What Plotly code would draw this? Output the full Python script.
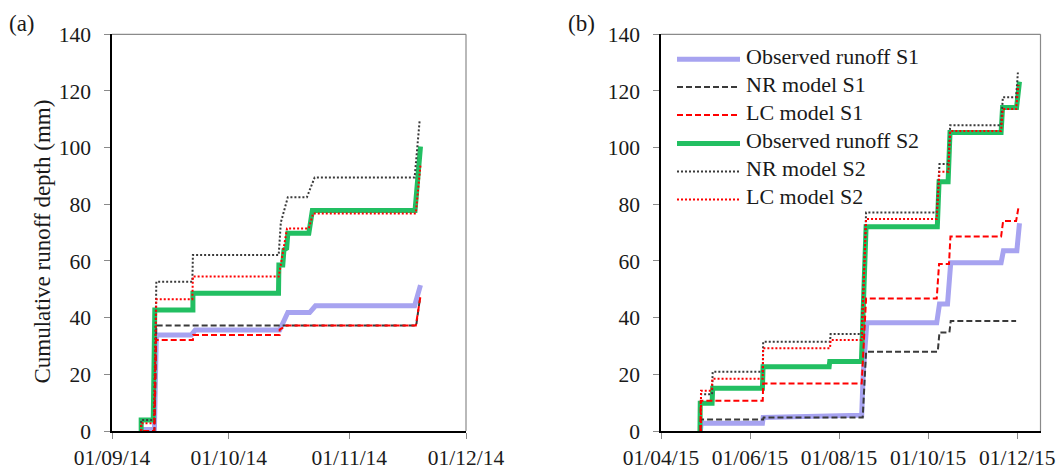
import pandas as pd
import plotly.graph_objects as go

W, H = 1057, 470

# ---------------- Data: panel (a) (days after 01/09/2014, mm) ----------------
start_a = "2014-09-01"
a_obs_s1_d = [8.0, 10.9, 11.4, 20.4, 21.4, 43.1, 45.2, 50.8, 52.3, 77.8, 79.3]
a_obs_s1_v = [0.5, 0.5, 33.9, 33.9, 35.6, 35.6, 41.8, 41.8, 44.2, 44.2, 51.5]
a_nr_s1_d = [8.0, 10.9, 11.4, 78.2, 79.1]
a_nr_s1_v = [0.0, 0.0, 37.2, 37.2, 46.2]
a_lc_s1_d = [8.0, 10.9, 11.3, 20.8, 20.9, 43.1, 43.1, 44.8, 78.1, 79.3]
a_lc_s1_v = [0.0, 0.0, 32.1, 32.1, 33.9, 33.9, 35.8, 37.2, 37.2, 47.6]
a_obs_s2_d = [7.5, 7.5, 10.6, 11.0, 20.8, 20.8, 42.8, 42.9, 43.9, 44.2, 44.9, 45.2, 50.6, 51.5, 77.9, 78.5, 79.3]
a_obs_s2_v = [0.0, 3.9, 3.9, 42.7, 42.7, 48.6, 48.6, 58.6, 58.6, 63.9, 64.5, 69.8, 69.8, 77.8, 77.8, 90.0, 100.4]
a_nr_s2_d = [7.5, 7.5, 10.8, 11.4, 20.65, 20.8, 42.85, 43.4, 45.2, 50.1, 52.1, 77.8, 79.1]
a_nr_s2_v = [0.0, 3.9, 3.9, 52.7, 52.7, 62.1, 62.1, 73.6, 82.5, 82.5, 89.5, 89.5, 109.8]
a_lc_s2_d = [7.5, 7.5, 10.8, 11.4, 20.65, 20.8, 42.85, 45.0, 50.6, 51.7, 78.1, 79.3]
a_lc_s2_v = [0.0, 2.7, 2.7, 46.5, 46.5, 54.5, 54.5, 71.5, 71.5, 76.8, 76.8, 93.9]

# ---------------- Data: panel (b) (days after 01/04/2015, mm) ----------------
start_b = "2015-04-01"
b_obs_s1_d = [27.0, 27.5, 69.5, 70.0, 137.5, 138.5, 141.0, 188.9, 190.8, 196.3, 198.5, 233.0, 234.6, 243.8, 245.6]
b_obs_s1_v = [0.0, 2.7, 2.7, 4.8, 5.6, 20.0, 38.2, 38.2, 44.8, 44.8, 59.4, 59.4, 63.6, 63.6, 73.3]
b_nr_s1_d = [27.0, 27.2, 70.0, 70.3, 138.2, 140.5, 189.6, 190.8, 197.6, 198.5, 243.3]
b_nr_s1_v = [0.0, 4.1, 4.1, 4.8, 4.8, 28.0, 28.0, 34.8, 34.8, 38.8, 38.8]
b_lc_s1_d = [27.0, 27.2, 69.7, 70.0, 137.5, 140.5, 188.9, 190.5, 197.3, 198.3, 233.0, 234.4, 243.3, 244.9]
b_lc_s1_v = [0.0, 10.7, 10.7, 16.8, 16.8, 46.8, 46.8, 58.9, 58.9, 68.6, 68.6, 74.1, 74.1, 78.9]
b_obs_s2_d = [26.7, 26.9, 35.0, 35.4, 69.5, 69.9, 115.2, 115.6, 137.3, 140.5, 189.3, 190.5, 196.7, 198.0, 233.0, 234.0, 243.6, 245.6]
b_obs_s2_v = [0.0, 9.8, 9.8, 15.1, 15.1, 22.7, 22.7, 24.5, 24.5, 72.1, 72.1, 88.0, 88.0, 105.3, 105.3, 114.2, 114.2, 123.3]
b_nr_s2_d = [27.4, 27.4, 35.0, 35.4, 69.7, 70.0, 115.8, 116.2, 137.5, 140.5, 188.9, 190.8, 196.9, 198.1, 233.0, 234.2, 243.3, 244.5]
b_nr_s2_v = [0.0, 13.0, 13.0, 20.9, 20.9, 31.5, 31.5, 34.2, 34.2, 77.1, 77.1, 94.2, 94.2, 107.9, 107.9, 117.8, 117.8, 126.5]
b_lc_s2_d = [27.4, 27.4, 34.7, 35.2, 69.7, 70.0, 115.8, 116.2, 137.5, 140.5, 188.9, 190.8, 196.9, 198.1, 233.0, 234.2, 243.3, 244.9]
b_lc_s2_v = [0.0, 14.2, 14.2, 18.4, 18.4, 29.2, 29.2, 32.1, 32.1, 74.8, 74.8, 91.5, 91.5, 105.9, 105.9, 113.6, 113.6, 122.1]

# ---------------- Axis labels ----------------
a_tick_dates = ["2014-09-01", "2014-10-01", "2014-11-01", "2014-12-01"]
a_tick_text = ["01/09/14", "01/10/14", "01/11/14", "01/12/14"]
b_tick_dates = ["2015-04-01", "2015-06-01", "2015-08-01", "2015-10-01", "2015-12-01"]
b_tick_text = ["01/04/15", "01/06/15", "01/08/15", "01/10/15", "01/12/15"]
a_range = ["2014-09-01", "2014-12-01"]
b_range = ["2015-04-01", "2015-12-17"]
y_ticks = [0, 20, 40, 60, 80, 100, 120, 140]
series_names = ["Observed runoff S1", "NR model S1", "LC model S1",
                "Observed runoff S2", "NR model S2", "LC model S2"]
y_title = "Cumulative runoff depth (mm)"

# ---------------- Styles ----------------
FONT = "Liberation Serif"
TXT = "#1a1a1a"
LAV = "#A7A3F0"
GRN = "#22BF62"
DARK = "#3a3a3a"
RED = "#FF0000"
styles = [
    dict(color=LAV, width=5, dash="solid"),
    dict(color=DARK, width=2, dash="6px,3px"),
    dict(color=RED, width=2, dash="6px,3px"),
    dict(color=GRN, width=5, dash="solid"),
    dict(color=DARK, width=2, dash="2px,2px"),
    dict(color=RED, width=2, dash="2px,2px"),
]
draw_order = [0, 3, 1, 2, 4, 5]


def to_dates(start, days):
    return pd.Timestamp(start) + pd.to_timedelta(days, unit="D")


panel_a = [(a_obs_s1_d, a_obs_s1_v), (a_nr_s1_d, a_nr_s1_v), (a_lc_s1_d, a_lc_s1_v),
           (a_obs_s2_d, a_obs_s2_v), (a_nr_s2_d, a_nr_s2_v), (a_lc_s2_d, a_lc_s2_v)]
panel_b = [(b_obs_s1_d, b_obs_s1_v), (b_nr_s1_d, b_nr_s1_v), (b_lc_s1_d, b_lc_s1_v),
           (b_obs_s2_d, b_obs_s2_v), (b_nr_s2_d, b_nr_s2_v), (b_lc_s2_d, b_lc_s2_v)]

fig = go.Figure()
for i in draw_order:
    d, v = panel_a[i]
    fig.add_trace(go.Scatter(x=to_dates(start_a, d), y=v, mode="lines", name=series_names[i],
                             line=styles[i], xaxis="x", yaxis="y", showlegend=False,
                             hoverinfo="skip"))
for i in draw_order:
    d, v = panel_b[i]
    fig.add_trace(go.Scatter(x=to_dates(start_b, d), y=v, mode="lines", name=series_names[i],
                             line=styles[i], xaxis="x2", yaxis="y2", showlegend=False,
                             hoverinfo="skip"))

# pixel -> paper helpers
def px(x):
    return x / W


def py(y):
    return 1 - y / H


y_dom = [py(431), py(34.3)]
ax_common = dict(showgrid=False, zeroline=False, showline=True, linecolor="black", linewidth=1.5,
                 ticks="outside", ticklen=6, tickcolor="#8a8a8a", tickwidth=1.2,
                 tickfont=dict(family=FONT, size=21.5, color=TXT), automargin=False)

fig.update_layout(
    width=W, height=H,
    margin=dict(l=0, r=0, t=0, b=0),
    paper_bgcolor="white", plot_bgcolor="white",
    xaxis=dict(domain=[px(112), px(466)], type="date", range=a_range,
               tickmode="array", tickvals=a_tick_dates, ticktext=a_tick_text,
               anchor="y", **ax_common),
    yaxis=dict(domain=y_dom, range=[0, 140], tickmode="array", tickvals=y_ticks,
               ticklabelstandoff=9, anchor="x", **ax_common),
    xaxis2=dict(domain=[px(661), px(1040.5)], type="date", range=b_range,
                tickmode="array", tickvals=b_tick_dates, ticktext=b_tick_text,
                anchor="y2", **ax_common),
    yaxis2=dict(domain=y_dom, range=[0, 140], tickmode="array", tickvals=y_ticks,
                ticklabelstandoff=9, anchor="x2", **ax_common),
)

shapes = []
for xd, yd in [("x domain", "y domain"), ("x2 domain", "y2 domain")]:
    shapes.append(dict(type="line", xref=xd, yref=yd, x0=0, x1=1, y0=1, y1=1,
                       line=dict(color="#8a8a8a", width=1.2), layer="below"))
    shapes.append(dict(type="line", xref=xd, yref=yd, x0=1, x1=1, y0=0, y1=1,
                       line=dict(color="#8a8a8a", width=1.2), layer="below"))

annotations = [
    dict(text="(a)", x=px(7), y=py(23), xref="paper", yref="paper", xanchor="left",
         yanchor="middle", showarrow=False, font=dict(family=FONT, size=23, color=TXT)),
    dict(text="(b)", x=px(566), y=py(23), xref="paper", yref="paper", xanchor="left",
         yanchor="middle", showarrow=False, font=dict(family=FONT, size=23, color=TXT)),
    dict(text=y_title, x=px(42), y=py(241.5), xref="paper", yref="paper", xanchor="center",
         yanchor="middle", textangle=-90, showarrow=False,
         font=dict(family=FONT, size=23, color=TXT)),
]

# custom legend in panel (b)
leg_y = [59.3, 87.0, 115.0, 143.5, 171.5, 199.5]
for i, ly in enumerate(leg_y):
    st = styles[i]
    shapes.append(dict(type="line", xref="paper", yref="paper", x0=px(677), x1=px(740),
                       y0=py(ly), y1=py(ly),
                       line=dict(color=st["color"], width=st["width"], dash=st["dash"])))
    annotations.append(dict(text=series_names[i], x=px(744), y=py(ly - 3), xref="paper",
                            yref="paper", xanchor="left", yanchor="middle", showarrow=False,
                            font=dict(family=FONT, size=22, color=TXT)))

fig.update_layout(shapes=shapes, annotations=annotations)
fig.write_html("out.html")
